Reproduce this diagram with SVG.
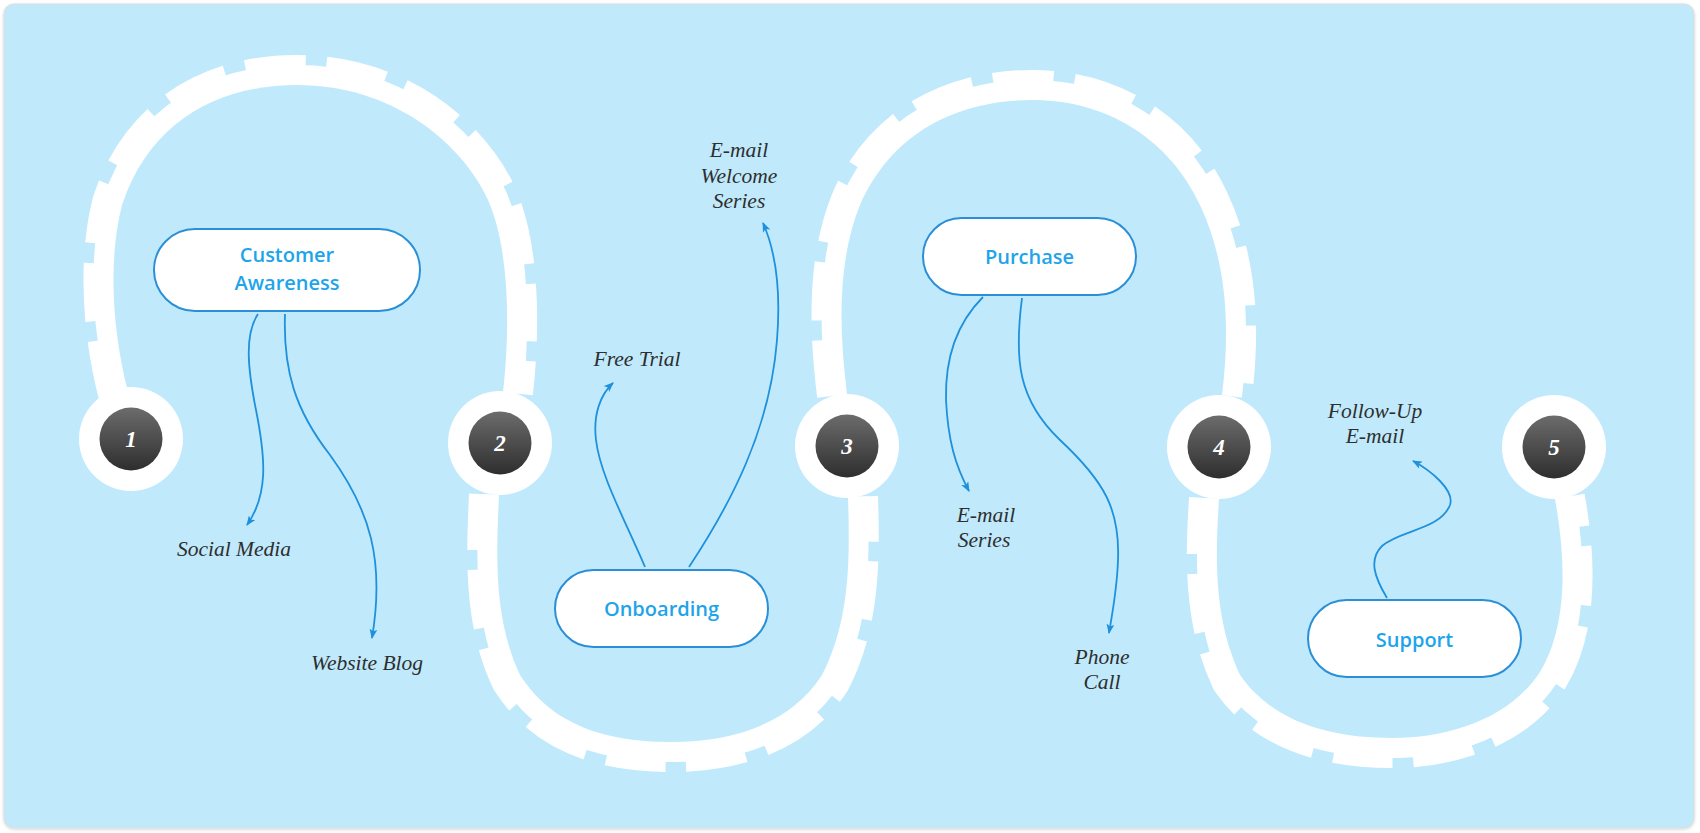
<svg xmlns="http://www.w3.org/2000/svg" width="1700" height="833" viewBox="0 0 1700 833">
<defs>
<linearGradient id="dark" x1="0" y1="0" x2="0" y2="1">
<stop offset="0" stop-color="#6c6c6c"/>
<stop offset="1" stop-color="#2e2e2e"/>
</linearGradient>
<filter id="sh" x="-2%" y="-2%" width="104%" height="104%">
<feDropShadow dx="0" dy="1" stdDeviation="1.5" flood-color="#000" flood-opacity="0.18"/>
</filter>
<marker id="arr" viewBox="0 0 10 8" refX="9" refY="4" markerWidth="10" markerHeight="8" markerUnits="userSpaceOnUse" orient="auto">
<path d="M0,0 L10,4 L0,8 L2.5,4 z" fill="#1E90DC"/>
</marker>
<style>
.teeth{fill:none;stroke:#fff;stroke-width:60;stroke-dasharray:55 19}
.band{fill:none;stroke:#fff;stroke-width:40}
.inner{fill:#C0EAFC;stroke:none}
.ring{fill:#fff}
.dot{fill:url(#dark)}
.num{font-family:"Liberation Serif",serif;font-style:italic;font-weight:bold;font-size:23px;fill:#fff;text-anchor:middle}
.pill{fill:#fff;stroke:#2A8FD6;stroke-width:2}
.ntext{font-family:"Open Sans","Liberation Sans",sans-serif;font-size:20px;font-weight:600;fill:#1EA4EA;text-anchor:middle}
.lbl{font-family:"Liberation Serif",serif;font-style:italic;font-size:21.5px;fill:#2e2e2e;text-anchor:middle}
.conn{fill:none;stroke:#1E90DC;stroke-width:1.8;marker-end:url(#arr)}
</style>
</defs>
<rect x="0" y="0" width="1700" height="833" fill="#fff"/>
<rect x="4" y="4" width="1690" height="824" rx="10" fill="#C0EAFC" stroke="#dcdcdc" stroke-width="1" filter="url(#sh)"/>

<g id="track">
<path class="teeth" d="M128,392 C112,330 108,260 122,205 C150,120 220,85 297,85 C390,85 460,140 488,200 C510,250 510,330 503,392"/>
<path class="band" d="M128,392 C112,330 108,260 122,205 C150,120 220,85 297,85 C390,85 460,140 488,200 C510,250 510,330 503,392"/>
<path class="inner" d="M128,392 C112,330 108,260 122,205 C150,120 220,85 297,85 C390,85 460,140 488,200 C510,250 510,330 503,392 Z"/>

<path class="teeth" d="M499,495 C496,560 494,620 520,675 C555,730 615,742 672,742 C730,742 790,725 822,675 C850,620 850,560 848,497"/>
<path class="band" d="M499,495 C496,560 494,620 520,675 C555,730 615,742 672,742 C730,742 790,725 822,675 C850,620 850,560 848,497"/>
<path class="inner" d="M499,495 C496,560 494,620 520,675 C555,730 615,742 672,742 C730,742 790,725 822,675 C850,620 850,560 848,497 Z"/>

<path class="teeth" d="M847,394 C839,330 837,262 860,205 C892,132 958,100 1032,100 C1108,100 1170,140 1200,205 C1228,265 1230,330 1222,395"/>
<path class="band" d="M847,394 C839,330 837,262 860,205 C892,132 958,100 1032,100 C1108,100 1170,140 1200,205 C1228,265 1230,330 1222,395"/>
<path class="inner" d="M847,394 C839,330 837,262 860,205 C892,132 958,100 1032,100 C1108,100 1170,140 1200,205 C1228,265 1230,330 1222,395 Z"/>

<path class="teeth" d="M1219,499 C1215,560 1214,620 1240,675 C1275,725 1335,738 1392,738 C1450,738 1510,718 1540,672 C1568,625 1566,560 1555,499"/>
<path class="band" d="M1219,499 C1215,560 1214,620 1240,675 C1275,725 1335,738 1392,738 C1450,738 1510,718 1540,672 C1568,625 1566,560 1555,499"/>
<path class="inner" d="M1219,499 C1215,560 1214,620 1240,675 C1275,725 1335,738 1392,738 C1450,738 1510,718 1540,672 C1568,625 1566,560 1555,499 Z"/>
</g>

<g id="step1"><circle class="ring" cx="131" cy="439" r="52"/><circle class="dot" cx="131" cy="439" r="31.5"/><text class="num" x="131" y="447">1</text></g>
<g id="step2"><circle class="ring" cx="500" cy="443" r="52"/><circle class="dot" cx="500" cy="443" r="31.5"/><text class="num" x="500" y="451">2</text></g>
<g id="step3"><circle class="ring" cx="847" cy="446" r="52"/><circle class="dot" cx="847" cy="446" r="31.5"/><text class="num" x="847" y="454">3</text></g>
<g id="step4"><circle class="ring" cx="1219" cy="447" r="52"/><circle class="dot" cx="1219" cy="447" r="31.5"/><text class="num" x="1219" y="455">4</text></g>
<g id="step5"><circle class="ring" cx="1554" cy="447" r="52"/><circle class="dot" cx="1554" cy="447" r="31.5"/><text class="num" x="1554" y="455">5</text></g>

<g id="connectors">
<path class="conn" d="M258,314 C244,335 248,370 256,410 C266,460 268,495 247,525"/>
<path class="conn" d="M285,314 C283,370 295,410 330,455 C370,510 385,560 372,638"/>
<path class="conn" d="M645,567 C625,520 600,475 596,440 C593,415 600,395 613,383"/>
<path class="conn" d="M689,567 C730,505 770,430 777,340 C781,290 775,250 763,223"/>
<path class="conn" d="M983,297 C955,325 945,360 946,400 C948,440 955,465 969,491"/>
<path class="conn" d="M1022,298 C1014,360 1018,400 1060,440 C1105,482 1120,510 1118,560 C1117,590 1112,615 1109,633"/>
<path class="conn" d="M1387,598 C1375,578 1368,560 1382,546 C1400,530 1440,530 1450,505 C1455,490 1430,470 1413,461"/>
</g>

<g id="customer-awareness"><rect class="pill" x="154" y="229" width="266" height="82" rx="41"/><text class="ntext" x="287" y="262">Customer</text><text class="ntext" x="287" y="290">Awareness</text></g>
<g id="onboarding"><rect class="pill" x="555" y="570" width="213" height="77" rx="38.5"/><text class="ntext" x="661.5" y="616">Onboarding</text></g>
<g id="purchase"><rect class="pill" x="923" y="218" width="213" height="77" rx="38.5"/><text class="ntext" x="1029.5" y="264">Purchase</text></g>
<g id="support"><rect class="pill" x="1308" y="600" width="213" height="77" rx="38.5"/><text class="ntext" x="1414.5" y="647">Support</text></g>

<g id="social-media"><text class="lbl" x="234" y="556">Social Media</text></g>
<g id="website-blog"><text class="lbl" x="367" y="670">Website Blog</text></g>
<g id="free-trial"><text class="lbl" x="637" y="366">Free Trial</text></g>
<g id="email-welcome"><text class="lbl" x="739" y="157">E-mail</text><text class="lbl" x="739" y="182.5">Welcome</text><text class="lbl" x="739" y="208">Series</text></g>
<g id="email-series"><text class="lbl" x="986" y="522">E-mail</text><text class="lbl" x="984" y="547">Series</text></g>
<g id="phone-call"><text class="lbl" x="1102" y="664">Phone</text><text class="lbl" x="1102" y="688.5">Call</text></g>
<g id="follow-up"><text class="lbl" x="1375" y="418">Follow-Up</text><text class="lbl" x="1375" y="443">E-mail</text></g>
</svg>
